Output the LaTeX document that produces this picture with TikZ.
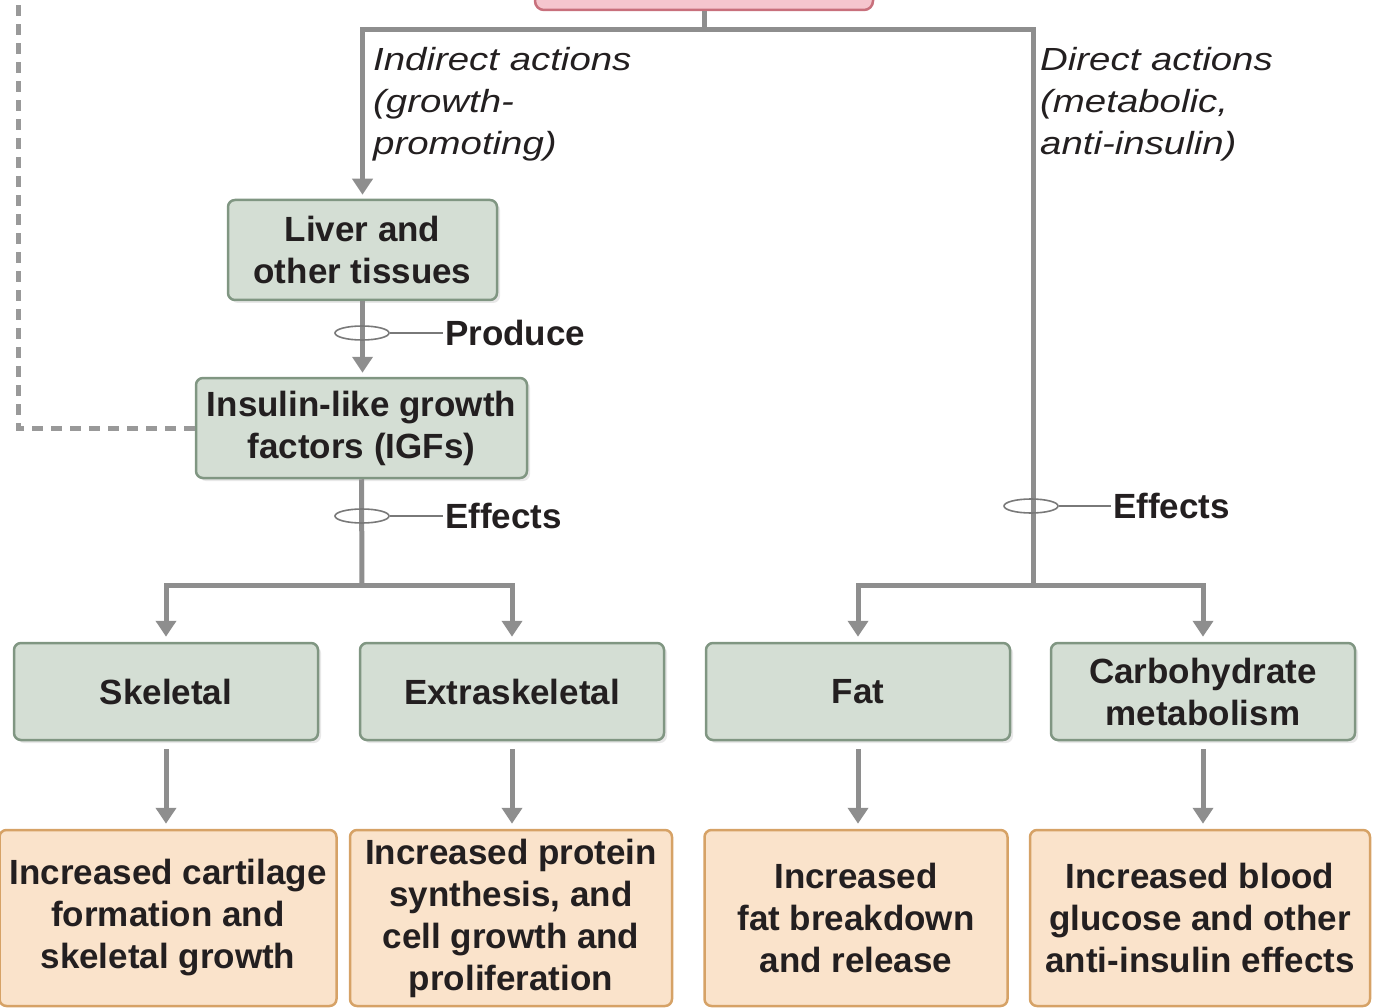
\documentclass[tikz,border=0pt]{standalone}
\usepackage{fontspec}
\setmainfont{Liberation Sans}
\newfontfamily\lblfont[FakeStretch=1.2]{Liberation Sans}
\usetikzlibrary{arrows.meta,shapes.geometric,shadows}

\definecolor{boxgreen}{RGB}{212,222,212}
\definecolor{edgegreen}{RGB}{128,150,130}
\definecolor{boxorange}{RGB}{250,227,203}
\definecolor{edgeorange}{RGB}{214,162,102}
\definecolor{boxpink}{RGB}{245,198,206}
\definecolor{edgepink}{RGB}{200,112,124}
\definecolor{conngray}{RGB}{142,142,142}
\definecolor{inkdark}{RGB}{35,31,32}

\begin{document}
\begin{tikzpicture}[x=1pt, y=-1pt, >={Triangle[width=20pt,length=16pt]},
    every node/.style={text=inkdark},
    organ/.style={draw=edgegreen, line width=2.5pt, fill=boxgreen, rounded corners=7pt,
      align=center, inner sep=0pt, font=\bfseries\fontsize{35}{42}\selectfont,
      drop shadow={opacity=0.18, shadow xshift=3pt, shadow yshift=-3pt}},
    result/.style={draw=edgeorange, line width=2.5pt, fill=boxorange, rounded corners=7pt,
      align=center, inner sep=0pt, minimum height=176, font=\bfseries\fontsize{35}{42}\selectfont},
    conn/.style={draw=conngray, line width=5pt},
    feedback/.style={draw=conngray!90, line width=5pt, dash pattern=on 11pt off 8pt},
    ring/.style={ellipse, draw=conngray!85!black, line width=1.6pt, minimum width=54,
      minimum height=14, inner sep=0pt},
    tagline/.style={draw=conngray!85!black, line width=1.6pt},
    tag/.style={font=\bfseries\fontsize{35}{42}\selectfont, inner sep=2pt},
    route/.style={font=\lblfont\itshape\fontsize{32}{42}\selectfont, align=left, inner sep=0pt}]
  \useasboundingbox (0,0) rectangle (1384,1008);

  % hormone box (cut off at top)
  \node[draw=edgepink, line width=2.5pt, fill=boxpink, rounded corners=9pt,
    minimum width=338, minimum height=90] (gh) at (704,-35) {};

  % left branch
  \node[organ, minimum width=269, minimum height=100] (liver) at (362.5,250)
    {Liver and\\other tissues};
  \node[organ, minimum width=331, minimum height=100] (igf) at (361.5,428)
    {Insulin-like growth\\factors (IGFs)};

  % target tissues
  \node[organ, minimum width=304, minimum height=97] (skel)  at (166,691.5)  {Skeletal};
  \node[organ, minimum width=304, minimum height=97] (extra) at (512,691.5)  {Extraskeletal};
  \node[organ, minimum width=304, minimum height=97] (fat)   at (858,691.5)  {Fat};
  \node[organ, minimum width=304, minimum height=97] (carb)  at (1203,691.5) {Carbohydrate\\metabolism};

  % outcomes
  \node[result, minimum width=337] (out1) at (168,918)  {Increased cartilage\\formation and\\skeletal growth};
  \node[result, minimum width=322] (out2) at (511,918)  {Increased protein\\synthesis, and\\cell growth and\\proliferation};
  \node[result, minimum width=303] (out3) at (856,918)  {Increased\\fat breakdown\\and release};
  \node[result, minimum width=340] (out4) at (1200,918) {Increased blood\\glucose and other\\anti-insulin effects};

  \coordinate (split) at (704,30);
  \coordinate (rjoin) at (1033,585);
  \coordinate (ljoin) at (362,585);
  \coordinate (fbtop) at (18,-10);

  % connectors
  \draw[conn] (gh.south) -- (split);
  \draw[conn, ->, shorten >=4pt] (split) -| (liver.north);
  \draw[conn] (split) -| (rjoin);
  \draw[conn, ->, shorten >=5pt] (rjoin) -| (fat.north);
  \draw[conn, ->, shorten >=5pt] (rjoin) -| (carb.north);
  \draw[conn, ->, shorten >=4pt] (liver.south) -- (liver.south |- igf.north);
  \draw[conn] (igf.south) -- (ljoin);
  \draw[conn, ->, shorten >=5pt] (ljoin) -| (skel.north);
  \draw[conn, ->, shorten >=5pt] (ljoin) -| (extra.north);
  \foreach \a/\b in {skel/out1, extra/out2, fat/out3, carb/out4}
    \draw[conn, ->, shorten <=8pt, shorten >=5pt] (\a.south) -- (\a.south |- \b.north);

  % feedback
  \draw[feedback] (igf.west) -| (fbtop);

  % route labels
  \node[route, anchor=north west] (indirect) at (373,47)
    {Indirect actions\\(growth-\\promoting)};
  \node[route, anchor=north west] (direct) at (1040,47)
    {Direct actions\\(metabolic,\\anti-insulin)};

  % produce / effects markers
  \node[ring] (ring1) at (362,333) {};
  \node[tag, anchor=west] (produce) at (443,333) {Produce};
  \draw[tagline] (ring1.east) -- (produce.west);

  \node[ring] (ring2) at (362,516) {};
  \node[tag, anchor=west] (effleft) at (443,516) {Effects};
  \draw[tagline] (ring2.east) -- (effleft.west);

  \node[ring] (ring3) at (1031,506) {};
  \node[tag, anchor=west] (effright) at (1111,506) {Effects};
  \draw[tagline] (ring3.east) -- (effright.west);
\end{tikzpicture}
\end{document}
